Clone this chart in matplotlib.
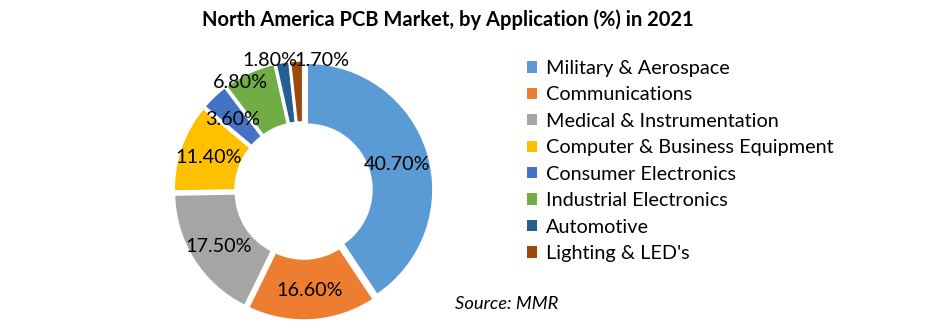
import matplotlib
matplotlib.use("Agg")
import matplotlib.pyplot as plt
import numpy as np
from matplotlib.patches import Patch

categories = ["Military & Aerospace", "Communications", "Medical & Instrumentation",
              "Computer & Business Equipment", "Consumer Electronics",
              "Industrial Electronics", "Automotive", "Lighting & LED's"]
values = [40.7, 16.6, 17.5, 11.4, 3.6, 6.8, 1.8, 1.7]
value_labels = ["40.70%", "16.60%", "17.50%", "11.40%", "3.60%", "6.80%", "1.80%", "1.70%"]
colors = ["#5B9BD5", "#ED7D31", "#A5A5A5", "#FFC000", "#4472C4", "#70AD47", "#255E91", "#9E480E"]

# label placement (pixel offsets from centre, style only)
label_offsets_px = [(93.5, 25.5), (6.5, -99.5), (-84.5, -56.5), (-94.5, 32.5),
                    (-70.5, 70.5), (-63.5, 107.5), (-33.5, 130.5), (18.5, 130.5)]

plt.rcParams['font.family'] = ['Lato', 'DejaVu Sans']

W, H = 941, 324
fig = plt.figure(figsize=(W / 100, H / 100), dpi=100)

cx, cy, R = 303.5, 190.5, 127
half = 150
ax = fig.add_axes([(cx - half) / W, (H - cy - half) / H, 2 * half / W, 2 * half / H])
ax.pie(values, colors=colors, startangle=90, counterclock=False, radius=1.0,
       explode=[0.025] * len(values),
       wedgeprops=dict(width=0.49, edgecolor="white", linewidth=2))
ax.set_xlim(-half / R, half / R)
ax.set_ylim(-half / R, half / R)
ax.set_aspect("equal")
ax.axis("off")

for lab, (dx, dy) in zip(value_labels, label_offsets_px):
    ax.text(dx / R, dy / R, lab, ha="center", va="center", fontsize=14.2, color="#000000")

fig.text(447.5 / W, 1 - 20 / H, "North America PCB Market, by Application (%) in 2021",
         ha="center", va="center", fontsize=14.5, fontweight="bold", color="#000000")

handles = [Patch(facecolor=c, edgecolor="none") for c in colors]
leg = fig.legend(handles, categories, loc="upper left",
                 bbox_to_anchor=(519 / W, 1 - 52 / H), frameon=False,
                 fontsize=14.3, handlelength=0.5, handleheight=0.5,
                 handletextpad=0.45, labelspacing=0.475, borderaxespad=0)

fig.text(455 / W, 1 - 304 / H, "Source: MMR", ha="left", va="center",
         fontsize=13.2, style="italic", color="#000000")

fig.savefig("out.png", dpi=100, facecolor="white")
